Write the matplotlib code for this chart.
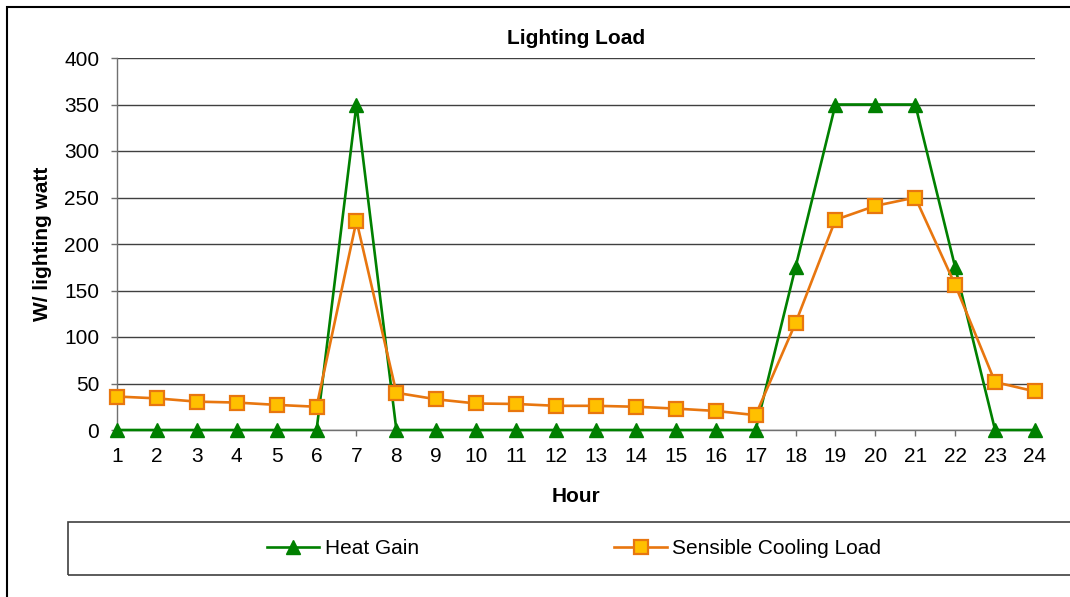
import matplotlib
matplotlib.use("Agg")
import matplotlib.pyplot as plt
from matplotlib.patches import Rectangle

plt.rcParams['font.family'] = ['Liberation Sans', 'DejaVu Sans']

hours = list(range(1, 25))
heat_gain = [0, 0, 0, 0, 0, 0, 350, 0, 0, 0, 0, 0, 0, 0, 0, 0, 0, 175, 350, 350, 350, 175, 0, 0]
cooling_load = [36, 34, 30.5, 29.5, 27, 25, 225, 40, 33, 28.5, 28, 26, 26, 25, 23, 20.5, 16,
                115, 226, 241, 250, 156, 51.5, 41.5]
y_ticks = list(range(0, 401, 50))

W, H = 1070, 597
FS = 15
fig = plt.figure(figsize=(W / 100, H / 100), dpi=100)
ax = fig.add_axes([117 / W, 1 - 430 / H, (1035 - 117) / W, (430 - 58) / H])

green = '#008000'
orange = '#E8760F'
fill = '#FFC000'

l1, = ax.plot(hours, heat_gain, color=green, lw=1.9, marker='^', ms=10,
              mfc=green, mec=green, clip_on=False, zorder=3, label='Heat Gain')
l2, = ax.plot(hours, cooling_load, color=orange, lw=1.9, marker='s', ms=10,
              mfc=fill, mec=orange, mew=1.6, clip_on=False, zorder=4,
              label='Sensible Cooling Load')

ax.set_xlim(1, 24)
ax.set_ylim(0, 400)
ax.set_xticks(hours)
ax.set_yticks(y_ticks)
ax.yaxis.grid(True, color='#404040', lw=1)
ax.set_axisbelow(True)
for s in ['top', 'right']:
    ax.spines[s].set_visible(False)
for s in ['left', 'bottom']:
    ax.spines[s].set_color('#707070')
    ax.spines[s].set_linewidth(1)
ax.tick_params(axis='both', labelsize=FS, color='#707070', length=4.3, width=1)
ax.tick_params(axis='x', pad=8)
ax.tick_params(axis='y', pad=8.5)

ax.set_title('Lighting Load', fontsize=FS, fontweight='bold', pad=10)
ax.set_xlabel('Hour', fontsize=FS, fontweight='bold', labelpad=15)
ax.set_ylabel('W/ lighting watt', fontsize=FS, fontweight='bold', labelpad=8.5)

# outer chart border
fig.patches.append(Rectangle((7 / W, -0.05), 1.1, 1 - 7 / H + 0.05, transform=fig.transFigure,
                             fill=False, ec='black', lw=1.5))
# legend box
fig.patches.append(Rectangle((68 / W, 1 - 575 / H), 1.1, (575 - 522) / H, transform=fig.transFigure,
                             fill=False, ec='#404040', lw=1.2))
fig.legend(handles=[l1, l2], loc='center', bbox_to_anchor=(574 / W, 1 - 549 / H), ncol=2,
           frameon=False, fontsize=FS, columnspacing=9.4, handlelength=2.5, handletextpad=0.25)

fig.savefig('out.png', dpi=100)
